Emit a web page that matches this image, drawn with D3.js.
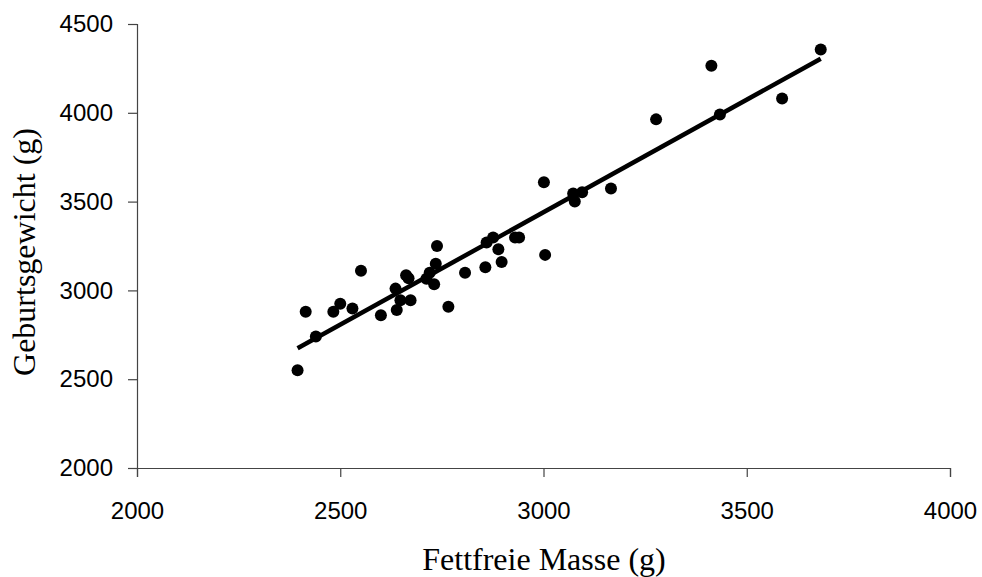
<!DOCTYPE html>
<html><head><meta charset="utf-8">
<script src="https://cdn.jsdelivr.net/npm/d3@7"></script>
<style>body{margin:0;background:#fff}</style>
</head><body>
<svg id="c" width="982" height="577"></svg>
<script>
const massX = [2395,2415,2440,2483,2500,2530,2551,2600,2636,2639,2648,2662,2668,2673,2712,2720,2731,2735,2738,2766,2807,2857,2860,2876,2889,2897,2930,2940,3001,3004,3073,3077,3095,3166,3277,3413,3434,3587,3682];
const weightY = [2550,2880,2740,2880,2925,2898,3110,2860,3010,2890,2945,3085,3068,2945,3065,3100,3035,3150,3250,2908,3100,3130,3270,3298,3232,3160,3298,3298,3609,3200,3545,3500,3552,3574,3963,4265,3991,4081,4357];
const xTicks = [2000,2500,3000,3500,4000];
const yTicks = [2000,2500,3000,3500,4000,4500];

const svg = d3.select("#c");
const x = d3.scaleLinear().domain([2000,4000]).range([137,950]);
const y = d3.scaleLinear().domain([2000,4500]).range([468,24]);
const fmt = d3.format("d");

const xa = svg.append("g").attr("transform","translate(0,468)")
  .call(d3.axisBottom(x).tickValues(xTicks).tickFormat(fmt).tickSize(9).tickPadding(25));
const ya = svg.append("g").attr("transform","translate(137,0)")
  .call(d3.axisLeft(y).tickValues(yTicks).tickFormat(fmt).tickSize(9).tickPadding(15));
[xa,ya].forEach(a=>{
  a.select(".domain").attr("stroke","#444").attr("stroke-width",1.2);
  a.selectAll(".tick line").attr("stroke","#444").attr("stroke-width",1.2);
  a.selectAll("text").attr("font-family","Liberation Sans, Arial, sans-serif").attr("font-size",24).attr("fill","#000");
});

// least squares fit
const n = massX.length;
const mx = d3.mean(massX), my = d3.mean(weightY);
let sxy=0, sxx=0;
for(let i=0;i<n;i++){ sxy += (massX[i]-mx)*(weightY[i]-my); sxx += (massX[i]-mx)**2; }
const b = sxy/sxx, a0 = my - b*mx;
const x0 = d3.min(massX), x1 = d3.max(massX);
svg.append("line")
  .attr("x1",x(x0)).attr("y1",y(a0+b*x0))
  .attr("x2",x(x1)).attr("y2",y(a0+b*x1))
  .attr("stroke","#000").attr("stroke-width",4.5);

svg.append("g").selectAll("circle").data(massX).join("circle")
  .attr("cx",(d)=>x(d)).attr("cy",(d,i)=>y(weightY[i])).attr("r",6).attr("fill","#000");

svg.append("text").attr("x",544).attr("y",570).attr("text-anchor","middle")
  .attr("font-family","Liberation Serif, Times New Roman, serif").attr("font-size",32).text("Fettfreie Masse (g)");
svg.append("text").attr("transform","translate(35,252) rotate(-90)").attr("text-anchor","middle")
  .attr("font-family","Liberation Serif, Times New Roman, serif").attr("font-size",32).text("Geburtsgewicht (g)");
</script>
</body></html>
